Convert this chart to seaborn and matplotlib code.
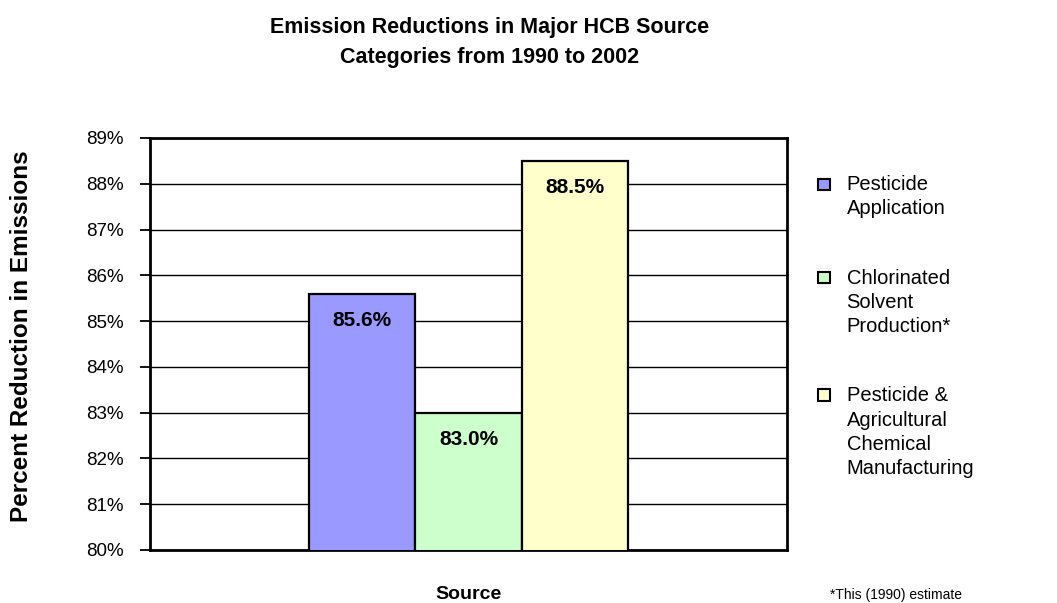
import matplotlib
matplotlib.use("Agg")
import matplotlib.pyplot as plt
import seaborn as sns
import pandas as pd
from matplotlib.patches import Patch, Rectangle
from matplotlib.legend_handler import HandlerPatch
from matplotlib.ticker import FuncFormatter, MultipleLocator

categories = ["Pesticide\nApplication",
              "Chlorinated\nSolvent\nProduction*",
              "Pesticide &\nAgricultural\nChemical\nManufacturing"]
values = [85.6, 83.0, 88.5]
value_labels = ["85.6%", "83.0%", "88.5%"]
colors = ["#9999FF", "#CCFFCC", "#FFFFCC"]

df = pd.DataFrame({"group": ["Source"] * 3, "category": categories, "value": values})

sns.set_theme(style="white")
plt.rcParams["font.family"] = ["Liberation Sans", "DejaVu Sans"]
plt.rcParams["text.color"] = "black"
plt.rcParams["axes.labelcolor"] = "black"
plt.rcParams["xtick.color"] = "black"
plt.rcParams["ytick.color"] = "black"

fig = plt.figure(figsize=(10.57, 6.03), dpi=100)
ax = fig.add_axes([150 / 1057, 1 - 550 / 603, 637 / 1057, 412 / 603])

sns.barplot(data=df, x="group", y="value", hue="category", palette=colors,
            saturation=1, width=0.5, edgecolor="black", linewidth=1.6, ax=ax,
            legend=False, zorder=3)

ax.set_ylim(80, 89)
ax.set_xlim(-0.5, 0.5)
ax.yaxis.set_major_locator(MultipleLocator(1))
ax.yaxis.set_major_formatter(FuncFormatter(lambda v, p: f"{v:.0f}%"))
ax.grid(axis="y", color="black", linewidth=1.0, zorder=0)
ax.set_axisbelow(True)
ax.tick_params(axis="y", which="major", left=True, length=7, width=1.3,
               color="black", pad=12, labelsize=13.5, labelcolor="black")
ax.tick_params(axis="x", bottom=False, labelbottom=False)
for s in ax.spines.values():
    s.set_visible(True)
    s.set_color("black")
    s.set_linewidth(2)

ax.set_xlabel("Source", fontsize=14, fontweight="bold", labelpad=26)
ax.set_ylabel("Percent Reduction in Emissions", fontsize=17.5, fontweight="bold")
ax.yaxis.set_label_coords(-117 / 637, 0.519)

for cont, lab in zip(ax.containers, value_labels):
    ax.bar_label(cont, labels=[lab], label_type="edge", padding=-26,
                 fontsize=15, fontweight="bold", color="black")

fig.text(490 / 1057, 1 - 28 / 603, "Emission Reductions in Major HCB Source",
         ha="center", va="center", fontsize=15.5, fontweight="bold")
fig.text(490 / 1057, 1 - 57 / 603, "Categories from 1990 to 2002",
         ha="center", va="center", fontsize=15.5, fontweight="bold")


def make_handler(n_lines, line_pt):
    def patch_func(legend, orig_handle, xdescent, ydescent, width, height, fontsize):
        off = (n_lines - 1) / 2 * line_pt
        return Rectangle((-xdescent, -ydescent + off), width, height)
    return HandlerPatch(patch_func=patch_func)


handles = [Patch(facecolor=c, edgecolor="black", linewidth=1.5) for c in colors]
line_pt = 18.0
handler_map = {h: make_handler(lab.count("\n") + 1, line_pt)
               for h, lab in zip(handles, categories)}
leg = fig.legend(handles, categories, loc="upper left", handler_map=handler_map,
                 bbox_to_anchor=(818 / 1057, 1 - 175 / 603), frameon=False,
                 fontsize=14.5, handlelength=0.62, handleheight=0.5,
                 handletextpad=0.8, labelspacing=2.5, borderaxespad=0,
                 borderpad=0)
for t in leg.get_texts():
    t.set_linespacing(1.35)

fig.text(830 / 1057, 1 / 603, "*This (1990) estimate", fontsize=10,
         va="bottom", ha="left")

fig.savefig("out.png", dpi=100)
